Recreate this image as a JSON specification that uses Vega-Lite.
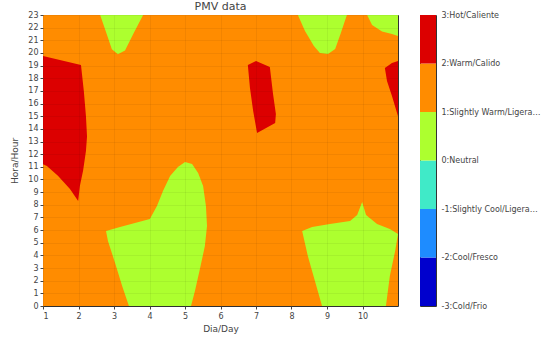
{
  "$schema": "https://vega.github.io/schema/vega-lite/v6.json",
  "padding": {"left": 10, "top": 0, "right": 0, "bottom": 0},
  "background": "white",
  "config": {
    "font": "DejaVu Sans",
    "view": {"stroke": "#333", "strokeWidth": 1},
    "axis": {
      "labelFont": "DejaVu Sans", "labelFontSize": 8, "labelColor": "#444", "labelOverlap": false,
      "titleFont": "DejaVu Sans", "titleFontSize": 9, "titleFontWeight": "normal", "titleColor": "#444",
      "tickColor": "#444", "tickSize": 3, "domain": false
    }
  },
  "datasets": {
    "bg": [{"d": 1, "d2": 11, "h": 0, "h2": 23, "band": "1"}],
    "polys": [
      {"poly": "r1", "band": "2", "i": 0, "d": 1.0, "h": 19.76},
      {"poly": "r1", "band": "2", "i": 1, "d": 2.07, "h": 19.05},
      {"poly": "r1", "band": "2", "i": 2, "d": 2.15, "h": 17.0},
      {"poly": "r1", "band": "2", "i": 3, "d": 2.21, "h": 15.0},
      {"poly": "r1", "band": "2", "i": 4, "d": 2.24, "h": 13.4},
      {"poly": "r1", "band": "2", "i": 5, "d": 2.21, "h": 12.25},
      {"poly": "r1", "band": "2", "i": 6, "d": 2.13, "h": 10.7},
      {"poly": "r1", "band": "2", "i": 7, "d": 2.04, "h": 9.5},
      {"poly": "r1", "band": "2", "i": 8, "d": 1.99, "h": 8.3},
      {"poly": "r1", "band": "2", "i": 9, "d": 1.76, "h": 9.25},
      {"poly": "r1", "band": "2", "i": 10, "d": 1.42, "h": 10.3},
      {"poly": "r1", "band": "2", "i": 11, "d": 1.11, "h": 11.07},
      {"poly": "r1", "band": "2", "i": 12, "d": 1.0, "h": 11.2},

      {"poly": "r2", "band": "2", "i": 0, "d": 6.77, "h": 19.05},
      {"poly": "r2", "band": "2", "i": 1, "d": 7.0, "h": 19.37},
      {"poly": "r2", "band": "2", "i": 2, "d": 7.39, "h": 18.89},
      {"poly": "r2", "band": "2", "i": 3, "d": 7.48, "h": 16.76},
      {"poly": "r2", "band": "2", "i": 4, "d": 7.56, "h": 15.18},
      {"poly": "r2", "band": "2", "i": 5, "d": 7.54, "h": 14.47},
      {"poly": "r2", "band": "2", "i": 6, "d": 7.03, "h": 13.68},
      {"poly": "r2", "band": "2", "i": 7, "d": 6.92, "h": 15.42},
      {"poly": "r2", "band": "2", "i": 8, "d": 6.83, "h": 17.23},

      {"poly": "r3", "band": "2", "i": 0, "d": 10.63, "h": 18.81},
      {"poly": "r3", "band": "2", "i": 1, "d": 10.83, "h": 19.2},
      {"poly": "r3", "band": "2", "i": 2, "d": 11.0, "h": 19.37},
      {"poly": "r3", "band": "2", "i": 3, "d": 11.0, "h": 15.0},
      {"poly": "r3", "band": "2", "i": 4, "d": 10.83, "h": 16.6},
      {"poly": "r3", "band": "2", "i": 5, "d": 10.69, "h": 17.79},

      {"poly": "g1", "band": "0", "i": 0, "d": 2.61, "h": 23},
      {"poly": "g1", "band": "0", "i": 1, "d": 2.77, "h": 21.7},
      {"poly": "g1", "band": "0", "i": 2, "d": 2.94, "h": 20.3},
      {"poly": "g1", "band": "0", "i": 3, "d": 3.11, "h": 19.9},
      {"poly": "g1", "band": "0", "i": 4, "d": 3.31, "h": 20.2},
      {"poly": "g1", "band": "0", "i": 5, "d": 3.56, "h": 21.6},
      {"poly": "g1", "band": "0", "i": 6, "d": 3.82, "h": 23},

      {"poly": "g2", "band": "0", "i": 0, "d": 2.775, "h": 5.93},
      {"poly": "g2", "band": "0", "i": 1, "d": 3.17, "h": 6.25},
      {"poly": "g2", "band": "0", "i": 2, "d": 3.59, "h": 6.56},
      {"poly": "g2", "band": "0", "i": 3, "d": 4.01, "h": 6.88},
      {"poly": "g2", "band": "0", "i": 4, "d": 4.21, "h": 7.91},
      {"poly": "g2", "band": "0", "i": 5, "d": 4.38, "h": 9.09},
      {"poly": "g2", "band": "0", "i": 6, "d": 4.58, "h": 10.28},
      {"poly": "g2", "band": "0", "i": 7, "d": 4.8, "h": 10.99},
      {"poly": "g2", "band": "0", "i": 8, "d": 5.0, "h": 11.38},
      {"poly": "g2", "band": "0", "i": 9, "d": 5.2, "h": 11.23},
      {"poly": "g2", "band": "0", "i": 10, "d": 5.37, "h": 10.51},
      {"poly": "g2", "band": "0", "i": 11, "d": 5.51, "h": 9.49},
      {"poly": "g2", "band": "0", "i": 12, "d": 5.59, "h": 7.91},
      {"poly": "g2", "band": "0", "i": 13, "d": 5.62, "h": 6.32},
      {"poly": "g2", "band": "0", "i": 14, "d": 5.56, "h": 4.74},
      {"poly": "g2", "band": "0", "i": 15, "d": 5.42, "h": 2.92},
      {"poly": "g2", "band": "0", "i": 16, "d": 5.28, "h": 1.19},
      {"poly": "g2", "band": "0", "i": 17, "d": 5.17, "h": 0},
      {"poly": "g2", "band": "0", "i": 18, "d": 3.42, "h": 0},
      {"poly": "g2", "band": "0", "i": 19, "d": 3.23, "h": 1.58},
      {"poly": "g2", "band": "0", "i": 20, "d": 3.03, "h": 3.4},
      {"poly": "g2", "band": "0", "i": 21, "d": 2.83, "h": 5.14},

      {"poly": "g3", "band": "0", "i": 0, "d": 8.18, "h": 23},
      {"poly": "g3", "band": "0", "i": 1, "d": 8.38, "h": 21.74},
      {"poly": "g3", "band": "0", "i": 2, "d": 8.63, "h": 20.55},
      {"poly": "g3", "band": "0", "i": 3, "d": 8.8, "h": 20.0},
      {"poly": "g3", "band": "0", "i": 4, "d": 9.03, "h": 19.92},
      {"poly": "g3", "band": "0", "i": 5, "d": 9.23, "h": 20.32},
      {"poly": "g3", "band": "0", "i": 6, "d": 9.39, "h": 21.58},
      {"poly": "g3", "band": "0", "i": 7, "d": 9.56, "h": 23},

      {"poly": "g4", "band": "0", "i": 0, "d": 10.13, "h": 23},
      {"poly": "g4", "band": "0", "i": 1, "d": 10.27, "h": 22.2},
      {"poly": "g4", "band": "0", "i": 2, "d": 10.55, "h": 21.7},
      {"poly": "g4", "band": "0", "i": 3, "d": 10.83, "h": 21.5},
      {"poly": "g4", "band": "0", "i": 4, "d": 11.0, "h": 21.34},
      {"poly": "g4", "band": "0", "i": 5, "d": 11.0, "h": 23},

      {"poly": "g5", "band": "0", "i": 0, "d": 8.3, "h": 5.93},
      {"poly": "g5", "band": "0", "i": 1, "d": 8.58, "h": 6.25},
      {"poly": "g5", "band": "0", "i": 2, "d": 9.08, "h": 6.48},
      {"poly": "g5", "band": "0", "i": 3, "d": 9.65, "h": 6.72},
      {"poly": "g5", "band": "0", "i": 4, "d": 9.85, "h": 7.19},
      {"poly": "g5", "band": "0", "i": 5, "d": 9.99, "h": 8.22},
      {"poly": "g5", "band": "0", "i": 6, "d": 10.1, "h": 7.19},
      {"poly": "g5", "band": "0", "i": 7, "d": 10.41, "h": 6.48},
      {"poly": "g5", "band": "0", "i": 8, "d": 10.77, "h": 6.09},
      {"poly": "g5", "band": "0", "i": 9, "d": 11.0, "h": 5.69},
      {"poly": "g5", "band": "0", "i": 10, "d": 10.92, "h": 4.35},
      {"poly": "g5", "band": "0", "i": 11, "d": 10.77, "h": 2.37},
      {"poly": "g5", "band": "0", "i": 12, "d": 10.66, "h": 0},
      {"poly": "g5", "band": "0", "i": 13, "d": 8.86, "h": 0},
      {"poly": "g5", "band": "0", "i": 14, "d": 8.66, "h": 1.98},
      {"poly": "g5", "band": "0", "i": 15, "d": 8.46, "h": 3.95}
    ],
    "cbar": [
      {"lo": -3, "hi": -2, "band": "-3"},
      {"lo": -2, "hi": -1, "band": "-2"},
      {"lo": -1, "hi": 0, "band": "-1"},
      {"lo": 0, "hi": 1, "band": "0"},
      {"lo": 1, "hi": 2, "band": "1"},
      {"lo": 2, "hi": 3, "band": "2"}
    ]
  },
  "spacing": 20,
  "hconcat": [
    {
      "width": 355,
      "height": 291,
      "title": {"text": "PMV data", "fontSize": 11, "fontWeight": "normal", "color": "#444", "font": "DejaVu Sans", "dy": -6, "offset": -7},
      "encoding": {
        "x": {"field": "d", "type": "quantitative", "scale": {"domain": [1, 11], "nice": false},
              "axis": {"title": "Dia/Day", "values": [1, 2, 3, 4, 5, 6, 7, 8, 9, 10], "grid": true, "gridColor": "#000", "gridOpacity": 0.05, "zindex": 1, "labelPadding": 3, "titlePadding": 4, "labelOverlap": false}},
        "y": {"field": "h", "type": "quantitative", "scale": {"domain": [0, 23], "nice": false},
              "axis": {"title": "Hora/Hour", "values": [0, 1, 2, 3, 4, 5, 6, 7, 8, 9, 10, 11, 12, 13, 14, 15, 16, 17, 18, 19, 20, 21, 22, 23], "grid": true, "gridColor": "#000", "gridOpacity": 0.05, "zindex": 1, "labelPadding": 2, "titlePadding": 8, "labelOverlap": false}}
      },
      "layer": [
        {
          "data": {"name": "bg"},
          "mark": {"type": "rect"},
          "encoding": {
            "x2": {"field": "d2"},
            "y2": {"field": "h2"},
            "color": {"field": "band", "type": "nominal", "legend": null,
                      "scale": {"domain": ["-3", "-2", "-1", "0", "1", "2"], "range": ["#0000cd", "#1e8cff", "#40eac8", "#adff2f", "#ff8c00", "#dc0000"]}}
          }
        },
        {
          "data": {"name": "polys"},
          "mark": {"type": "line", "filled": true, "interpolate": "linear", "strokeWidth": 0},
          "encoding": {
            "order": {"field": "i", "type": "quantitative"},
            "detail": {"field": "poly", "type": "nominal"},
            "color": {"field": "band", "type": "nominal", "legend": null,
                      "scale": {"domain": ["-3", "-2", "-1", "0", "1", "2"], "range": ["#0000cd", "#1e8cff", "#40eac8", "#adff2f", "#ff8c00", "#dc0000"]}}
          }
        }
      ]
    },
    {
      "width": 16,
      "height": 291,
      "data": {"name": "cbar"},
      "mark": {"type": "rect"},
      "encoding": {
        "y": {"field": "lo", "type": "quantitative", "scale": {"domain": [-3, 3], "nice": false},
              "axis": {"orient": "right", "title": null, "values": [-3, -2, -1, 0, 1, 2, 3], "ticks": false, "domain": false, "grid": false,
                       "labelPadding": 5, "labelLimit": 100, "labelOverlap": false, "labelFontSize": 8,
                       "labelExpr": "['-3:Cold/Frio','-2:Cool/Fresco','-1:Slightly Cool/Ligeramente Fresco','0:Neutral','1:Slightly Warm/Ligeramente Calido','2:Warm/Calido','3:Hot/Caliente'][datum.value + 3]"}},
        "y2": {"field": "hi"},
        "color": {"field": "band", "type": "nominal", "legend": null,
                  "scale": {"domain": ["-3", "-2", "-1", "0", "1", "2"], "range": ["#0000cd", "#1e8cff", "#40eac8", "#adff2f", "#ff8c00", "#dc0000"]}}
      }
    }
  ]
}
